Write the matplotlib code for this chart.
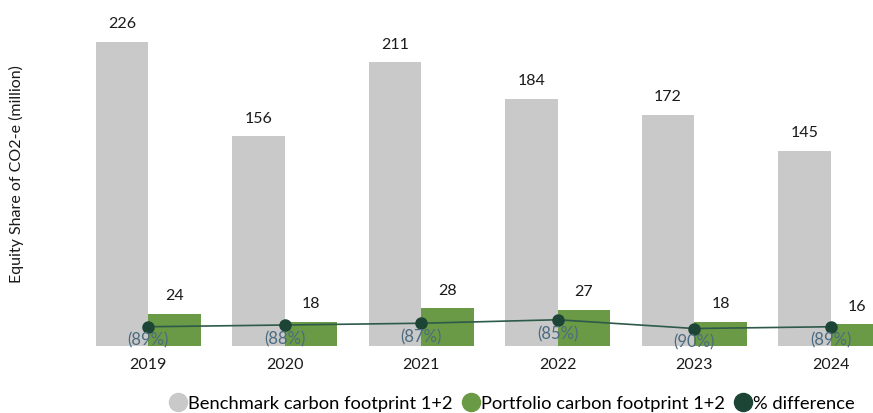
import numpy as np
import matplotlib.pyplot as plt
from matplotlib.lines import Line2D

plt.rcParams['font.family'] = ['Lato', 'DejaVu Sans']

years = ["2019", "2020", "2021", "2022", "2023", "2024"]
benchmark = [226, 156, 211, 184, 172, 145]
portfolio = [24, 18, 28, 27, 18, 16]
pct_diff = [89, 88, 87, 85, 90, 89]

grey = "#c9c9c9"
green = "#6a9a45"
dark = "#1d4536"

fig = plt.figure(figsize=(8.73, 4.14), dpi=100)
ax = fig.add_axes([80 / 873, 67 / 414, 793 / 873, 327 / 414])
x = np.arange(len(years))
w = 0.385

ax.bar(x - w / 2, benchmark, w, color=grey)
ax.bar(x + w / 2, portfolio, w, color=green)
for i in range(len(years)):
    ax.text(x[i] - w / 2, benchmark[i] + 14, str(benchmark[i]), ha="center", va="center",
            fontsize=11.5, color="#1a1a1a")
    ax.text(x[i] + w / 2, portfolio[i] + 14, str(portfolio[i]), ha="center", va="center",
            fontsize=11.5, color="#1a1a1a")

ax.set_xlim(-0.5, 5.31)
ax.set_ylim(0, 243.3)
ax.set_xticks(x)
ax.set_xticklabels(years, fontsize=11.5, color="#1a1a1a")
ax.tick_params(axis="x", length=0, pad=8)
ax.set_yticks([])
for s in ax.spines.values():
    s.set_visible(False)
ax.set_ylabel("Equity Share of CO2-e (million)", fontsize=11.5, color="#1a1a1a")
ax.yaxis.set_label_coords(-0.07, 0.53)

# % difference on a secondary scale
ax2 = ax.twinx()
px_per_pct = 1.75
ax2.set_ylim(-100, -100 + 327 / px_per_pct)
neg = [-p for p in pct_diff]
ax2.plot(x, neg, color="#2e5a4a", lw=1.2, marker="o", ms=8,
         markerfacecolor=dark, markeredgecolor=dark)
for i in range(len(years)):
    ax2.text(x[i], neg[i] - 7.5, f"({pct_diff[i]}%)", ha="center", va="center",
             fontsize=12, color="#4c6b80")
ax2.set_yticks([])
for s in ax2.spines.values():
    s.set_visible(False)

handles = [
    Line2D([], [], ls="", marker="o", ms=13, color=grey),
    Line2D([], [], ls="", marker="o", ms=13, color=green),
    Line2D([], [], ls="", marker="o", ms=13, color=dark),
]
labels = ["Benchmark carbon footprint 1+2", "Portfolio carbon footprint 1+2", "% difference"]
fig.legend(handles, labels, loc="center", bbox_to_anchor=(512 / 873, 1 - 404 / 414),
           ncol=3, frameon=False, fontsize=13.2, handletextpad=0.05, columnspacing=0.5,
           handlelength=1.0)

fig.savefig("out.png", dpi=100)
